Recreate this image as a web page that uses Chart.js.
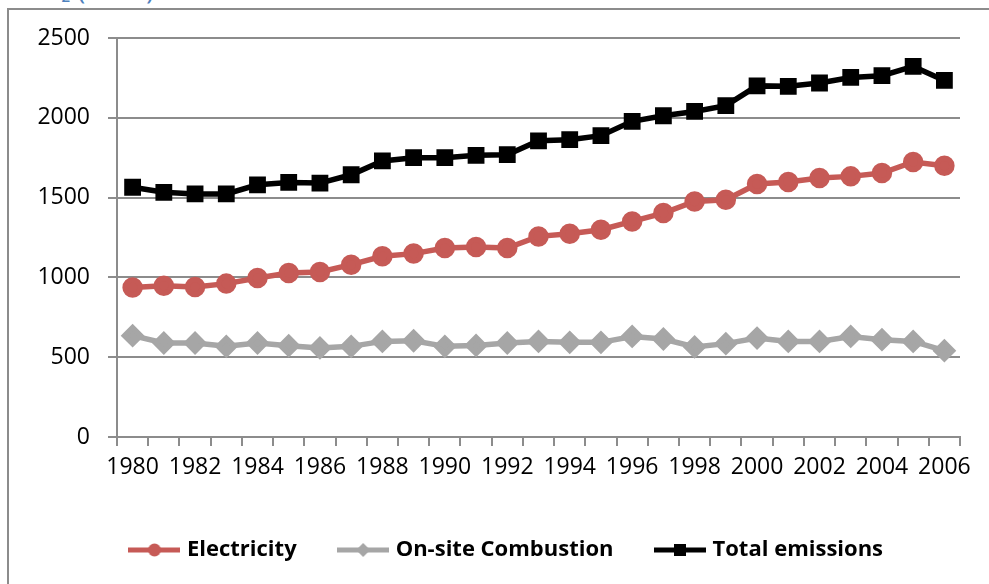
<!DOCTYPE html>
<html>
<head>
<meta charset="utf-8">
<script src="https://cdn.jsdelivr.net/npm/chart.js@4.4.0/dist/chart.umd.min.js"></script>
<style>
  html, body { margin: 0; padding: 0; background: #fff; overflow: hidden; }
  #wrap { position: relative; width: 989px; height: 584px; }
  #frame { position: absolute; left: 7px; top: 8px; width: 1200px; height: 800px; border: 2px solid #8c8c8c; }
  #head { position: absolute; left: 25px; top: -26px; font: 26px/30px "Open Sans", sans-serif; color: #4F81BD; white-space: nowrap; }
  canvas { position: absolute; left: 0; top: 0; }
</style>
</head>
<body>
<div id="wrap">
  <div id="head">CO₂ (MMT)</div>
  <div id="frame"></div>
  <canvas id="chart" width="989" height="584"></canvas>
</div>
<script>
const years = ['1980','1981','1982','1983','1984','1985','1986','1987','1988','1989','1990','1991','1992','1993',
  '1994','1995','1996','1997','1998','1999','2000','2001','2002','2003','2004','2005','2006'];
const electricity = [937,948,940,961,996,1027,1034,1080,1132,1149,1184,1190,1184,1257,
  1274,1299,1351,1403,1476,1487,1585,1598,1623,1633,1654,1723,1700];
const onsite = [635,589,589,568,589,572,558,568,599,603,568,574,589,599,
  593,593,630,614,564,585,620,599,599,630,610,599,541];
const total = [1565,1533,1523,1523,1580,1595,1591,1643,1730,1750,1750,1765,1769,1856,
  1863,1888,1978,2013,2040,2076,2200,2197,2218,2253,2264,2322,2234];
const yTicks = [0, 500, 1000, 1500, 2000, 2500];

const RED = '#C65A56', GRAY = '#A6A6A6', BLACK = '#000000', AXIS = '#8c8c8c';

// little line + marker pictures for the legend
function legendIcon(color, marker) {
  const c = document.createElement('canvas');
  c.width = 52; c.height = 16;
  const g = c.getContext('2d');
  g.strokeStyle = color; g.fillStyle = color; g.lineWidth = 5;
  g.beginPath(); g.moveTo(0, 8); g.lineTo(52, 8); g.stroke();
  g.beginPath();
  if (marker === 'circle') g.arc(26, 8, 6.5, 0, Math.PI * 2);
  else if (marker === 'rect') g.rect(20, 2, 12, 12);
  else { g.moveTo(26, 1); g.lineTo(33, 8); g.lineTo(26, 15); g.lineTo(19, 8); g.closePath(); }
  g.fill();
  return c;
}
const icons = [legendIcon(RED, 'circle'), legendIcon(GRAY, 'rectRot'), legendIcon(BLACK, 'rect')];

// the legend sits a bit right of the canvas centre in the original
const legendShift = {
  id: 'legendShift',
  afterLayout(chart) {
    if (chart.legend) { chart.legend.left += 28; chart.legend.right += 28; }
  }
};

new Chart(document.getElementById('chart'), {
  type: 'line',
  data: {
    labels: years,
    datasets: [
      { label: 'Electricity', data: electricity, borderColor: RED, backgroundColor: RED,
        borderWidth: 5.5, pointStyle: 'circle', pointRadius: 7.5, pointHoverRadius: 7.5, tension: 0 },
      { label: 'On-site Combustion', data: onsite, borderColor: GRAY, backgroundColor: GRAY,
        borderWidth: 5.5, pointStyle: 'rectRot', pointRadius: 8, pointHoverRadius: 8, tension: 0 },
      { label: 'Total emissions', data: total, borderColor: BLACK, backgroundColor: BLACK,
        borderWidth: 5.5, pointStyle: 'rect', pointRadius: 8, pointHoverRadius: 8, tension: 0 }
    ]
  },
  options: {
    responsive: false,
    animation: false,
    layout: { padding: { top: 38, right: 29, left: 0, bottom: 13 } },
    scales: {
      x: {
        offset: true,
        grid: { offset: true, drawOnChartArea: false, drawTicks: true, tickLength: 9, color: AXIS, lineWidth: 2 },
        border: { display: true, color: AXIS, width: 2 },
        ticks: {
          autoSkip: false, maxRotation: 0, padding: 8, color: '#000',
          font: { family: '"Open Sans", sans-serif', size: 23 },
          callback: (v, i) => (i % 2 === 0 ? years[i] : '')
        },
        afterFit: (s) => { s.height = 57; }
      },
      y: {
        min: 0, max: 2500,
        afterBuildTicks: (s) => { s.ticks = yTicks.map(v => ({ value: v })); },
        grid: { color: AXIS, lineWidth: 2, tickLength: 9 },
        border: { display: true, color: AXIS, width: 2 },
        ticks: {
          padding: 18, color: '#000', font: { family: '"Open Sans", sans-serif', size: 23 },
          callback: (v) => String(v)
        },
        afterFit: (s) => { s.width = 117; }
      }
    },
    plugins: {
      tooltip: { enabled: false },
      legend: {
        position: 'bottom',
        labels: {
          usePointStyle: true,
          pointStyleWidth: 43,
          padding: 45,
          color: '#000',
          font: { family: '"Open Sans", sans-serif', size: 22, weight: 'bold' },
          generateLabels: (chart) => {
            const items = Chart.defaults.plugins.legend.labels.generateLabels(chart);
            items.forEach((it, i) => { it.pointStyle = icons[i]; });
            return items;
          }
        }
      }
    }
  },
  plugins: [legendShift]
});
</script>
</body>
</html>
